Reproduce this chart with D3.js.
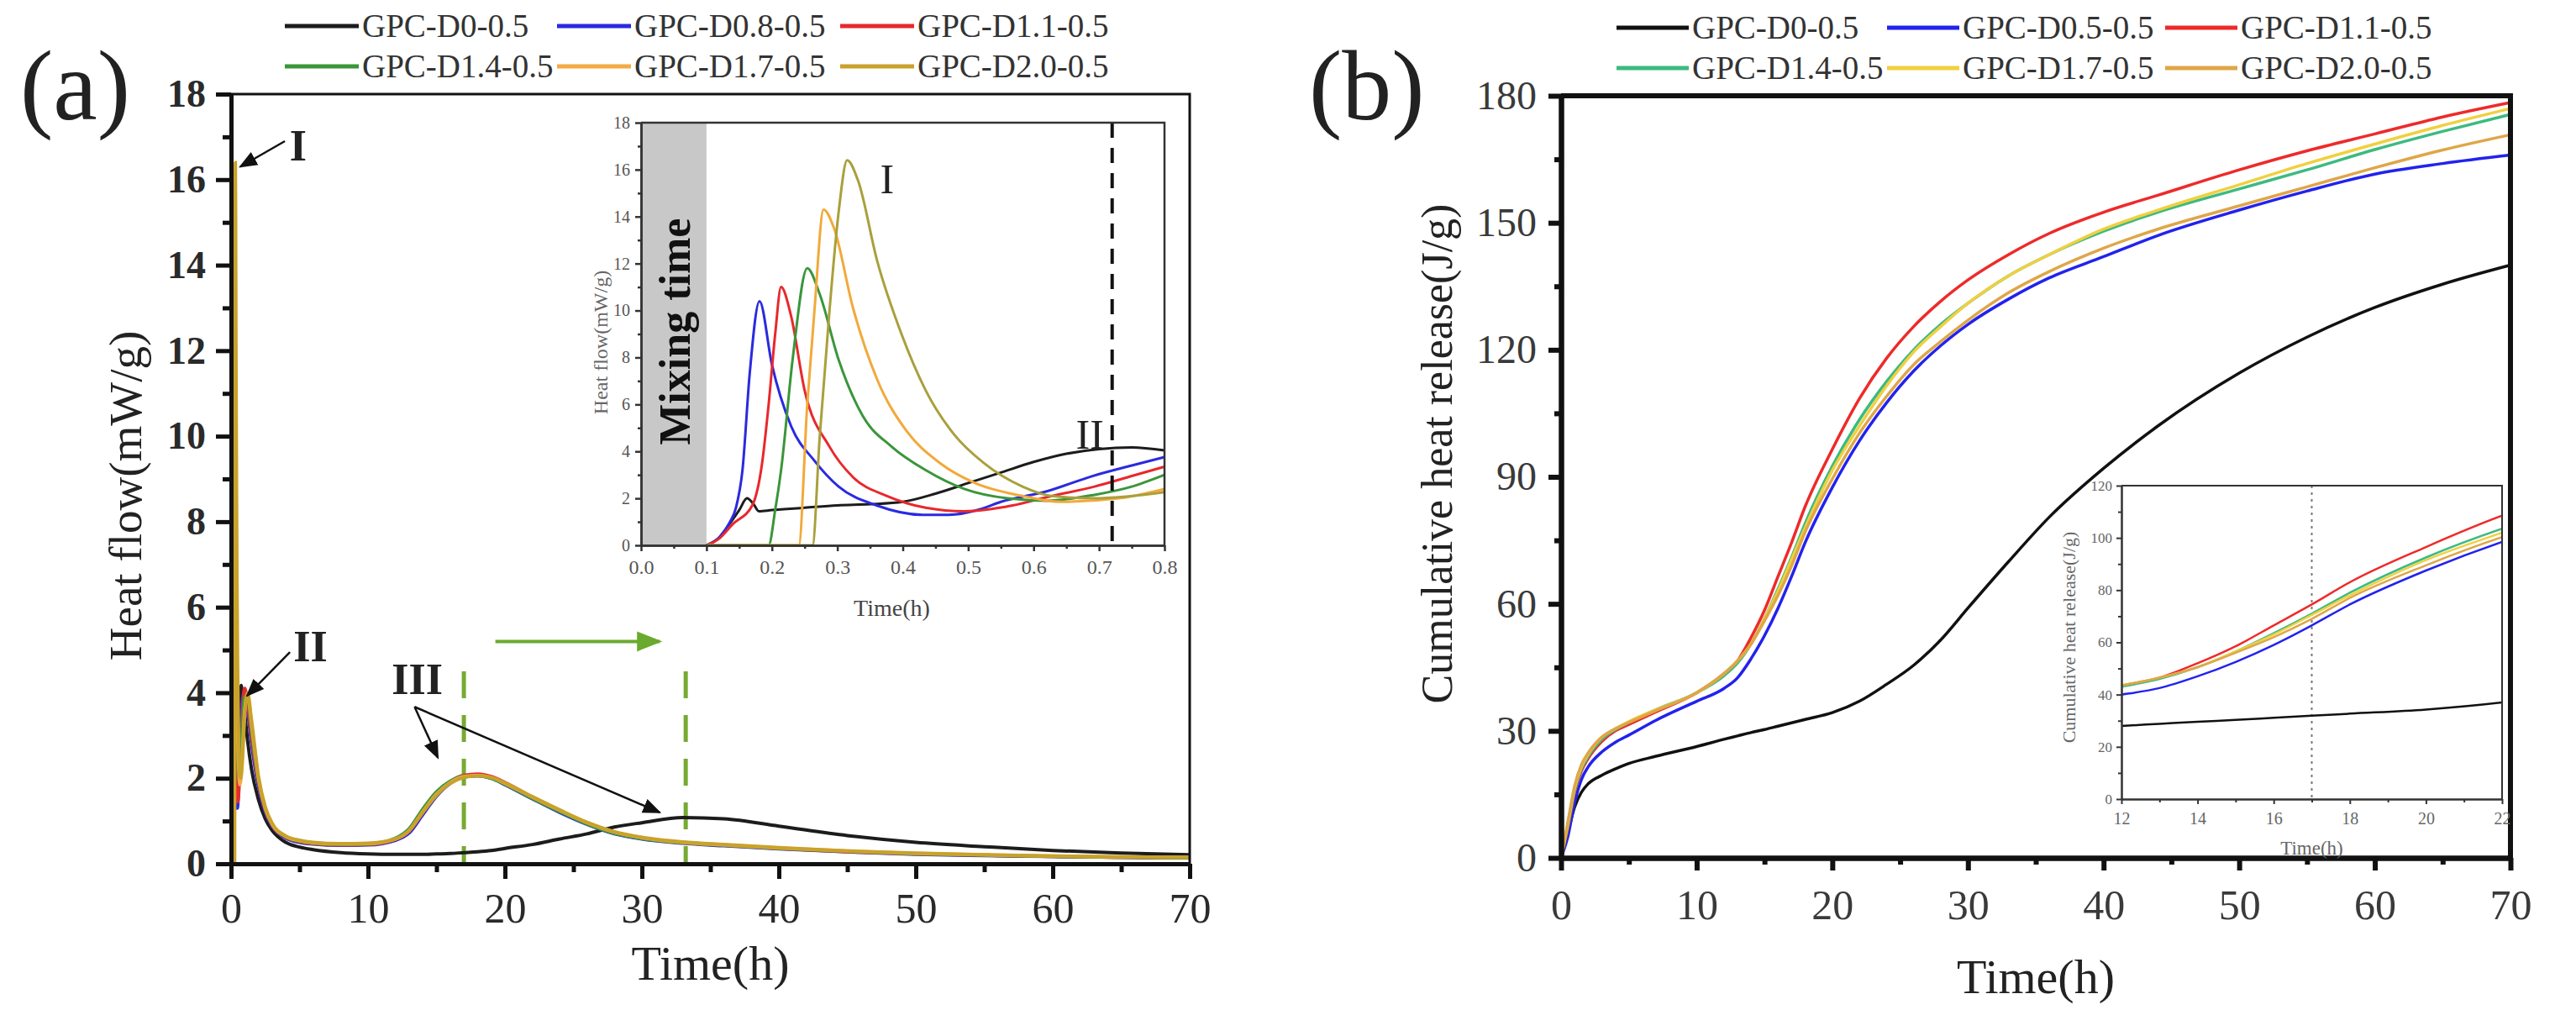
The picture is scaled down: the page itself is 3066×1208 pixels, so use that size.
<!DOCTYPE html>
<html>
<head>
<meta charset="utf-8">
<script src="https://cdn.jsdelivr.net/npm/d3@7"></script>
<style>
  body { margin: 0; background: #fff; }
  svg text { font-family: "Liberation Serif", "Times New Roman", serif; }
</style>
</head>
<body>
<svg id="fig" width="3066" height="1208"></svg>
<script>
// ---- panel (a): heat flow, mW/g ----
const namesA = ['GPC-D0-0.5', 'GPC-D0.8-0.5', 'GPC-D1.1-0.5', 'GPC-D1.4-0.5', 'GPC-D1.7-0.5', 'GPC-D2.0-0.5'];

// first hour, [time h, heat flow]
const earlyD0 = [[0.1,0],[0.12,0.35],[0.135,0.9],[0.15,1.5],[0.162,2.0],[0.172,1.75],[0.18,1.45],[0.2,1.5],[0.25,1.6],[0.3,1.7],[0.35,1.75],[0.4,1.85],[0.45,2.2],[0.5,2.65],[0.55,3.1],[0.6,3.55],[0.65,3.9],[0.7,4.1],[0.75,4.17],[0.8,4.04]];
const earlyD08 = [[0.1,0],[0.12,0.35],[0.135,0.95],[0.145,1.6],[0.155,3.2],[0.166,7.3],[0.181,10.4],[0.2,7.7],[0.229,5.1],[0.265,3.6],[0.302,2.5],[0.36,1.7],[0.43,1.3],[0.47,1.3],[0.52,1.55],[0.55,1.85],[0.62,2.3],[0.69,2.95],[0.75,3.4],[0.8,3.76]];
const earlyD11 = [[0.1,0],[0.12,0.3],[0.14,0.9],[0.17,1.7],[0.185,3.5],[0.195,6.0],[0.205,9.0],[0.214,11.0],[0.229,9.8],[0.25,6.6],[0.288,4.2],[0.324,2.9],[0.376,2.1],[0.435,1.6],[0.494,1.45],[0.568,1.7],[0.62,2.05],[0.693,2.5],[0.75,2.95],[0.8,3.35]];
const earlyD14 = [[0.1,0],[0.195,0],[0.205,1.5],[0.214,3.2],[0.232,8.0],[0.254,11.8],[0.273,10.7],[0.302,7.9],[0.339,5.5],[0.383,4.2],[0.435,3.2],[0.494,2.4],[0.56,2.0],[0.62,1.9],[0.693,2.15],[0.75,2.5],[0.8,3.0]];
const earlyD17 = [[0.1,0],[0.241,0],[0.254,6.0],[0.265,10],[0.279,14.3],[0.295,13.5],[0.324,10.1],[0.361,7.05],[0.406,4.86],[0.457,3.5],[0.509,2.67],[0.583,2.1],[0.641,1.85],[0.73,2.0],[0.8,2.4]];
const earlyD20 = [[0.1,0],[0.262,0],[0.273,4.6],[0.288,10],[0.302,14.2],[0.315,16.4],[0.332,15.5],[0.361,12.1],[0.398,9.0],[0.435,6.6],[0.479,4.7],[0.524,3.5],[0.583,2.5],[0.627,2.1],[0.693,2.0],[0.8,2.26]];

// after the first hour
const tLate = [1.0, 1.2, 1.5, 2, 2.5, 3, 4, 5, 6, 8, 10, 12, 13, 14, 15, 16, 17, 18, 19, 20, 22, 24, 26, 28, 30, 33, 36, 40, 45, 50, 55, 60, 65, 70];
const lateD0  = [3.5, 2.9, 2.2, 1.5, 1.05, 0.78, 0.5, 0.39, 0.33, 0.26, 0.23, 0.22, 0.22, 0.22, 0.23, 0.24, 0.26, 0.28, 0.31, 0.36, 0.45, 0.58, 0.7, 0.86, 0.96, 1.08, 1.05, 0.88, 0.66, 0.5, 0.4, 0.31, 0.25, 0.21];
const lateD08 = [4.05, 3.6, 2.8, 1.8, 1.2, 0.88, 0.6, 0.5, 0.46, 0.43, 0.44, 0.55, 0.72, 1.15, 1.58, 1.88, 2.03, 2.06, 2.0, 1.85, 1.52, 1.2, 0.92, 0.7, 0.58, 0.48, 0.42, 0.35, 0.28, 0.22, 0.19, 0.17, 0.15, 0.14];
const lateD11 = [4.1, 3.75, 2.95, 1.9, 1.25, 0.9, 0.62, 0.52, 0.47, 0.44, 0.45, 0.57, 0.76, 1.2, 1.62, 1.92, 2.07, 2.1, 2.04, 1.9, 1.56, 1.24, 0.95, 0.72, 0.6, 0.49, 0.43, 0.36, 0.28, 0.23, 0.2, 0.17, 0.15, 0.14];
const lateD14 = [3.9, 3.9, 3.1, 1.95, 1.28, 0.92, 0.63, 0.53, 0.48, 0.45, 0.46, 0.6, 0.82, 1.28, 1.68, 1.93, 2.05, 2.06, 2.0, 1.86, 1.53, 1.22, 0.93, 0.71, 0.59, 0.49, 0.43, 0.36, 0.29, 0.23, 0.2, 0.17, 0.15, 0.14];
const lateD17 = [3.6, 3.95, 3.25, 2.0, 1.3, 0.93, 0.64, 0.54, 0.49, 0.46, 0.47, 0.58, 0.78, 1.22, 1.63, 1.9, 2.04, 2.07, 2.02, 1.88, 1.56, 1.25, 0.96, 0.74, 0.61, 0.5, 0.44, 0.37, 0.3, 0.24, 0.21, 0.18, 0.16, 0.15];
const lateD20 = [3.5, 4.0, 3.35, 2.05, 1.33, 0.95, 0.65, 0.55, 0.5, 0.47, 0.48, 0.58, 0.77, 1.2, 1.6, 1.88, 2.02, 2.06, 2.02, 1.89, 1.57, 1.26, 0.97, 0.75, 0.62, 0.51, 0.45, 0.38, 0.3, 0.25, 0.21, 0.18, 0.16, 0.15];

const earlyA = [earlyD0, earlyD08, earlyD11, earlyD14, earlyD17, earlyD20];
const lateA = [lateD0, lateD08, lateD11, lateD14, lateD17, lateD20];
const colorsA = ['#1c1c1c', '#2a2ae0', '#e8282c', '#3a963a', '#f3ab45', '#c9a22a'];
const insetColorsA = ['#1c1c1c', '#2a2ae0', '#e8282c', '#3a963a', '#f2a93b', '#a9a03c'];

// ---- panel (b): cumulative heat, J/g ----
const namesB = ['GPC-D0-0.5', 'GPC-D0.5-0.5', 'GPC-D1.1-0.5', 'GPC-D1.4-0.5', 'GPC-D1.7-0.5', 'GPC-D2.0-0.5'];
const tCum = [0, 0.5, 1, 1.5, 2, 3, 4, 5, 7, 10, 12, 13, 14, 15, 16, 17, 18, 20, 22, 24, 26, 28, 30, 33, 36, 40, 44, 50, 55, 60, 65, 70];
const cumD0  = [0, 6, 12, 15.5, 17.5, 19.5, 21, 22.3, 24, 26.3, 28, 28.8, 29.6, 30.3, 31.1, 31.9, 32.7, 34.3, 37, 41, 45.5, 51.5, 59, 70, 80.5, 92, 102, 114.5, 123, 130, 135.5, 140];
const cumD05 = [0, 5, 13, 18.5, 21.5, 25, 27.3, 29, 32.5, 37, 40, 42.5, 47, 52.5, 59, 66.5, 74.5, 87.5, 98.5, 107.5, 115, 121, 126, 132, 137, 142, 147, 153, 157.5, 161.5, 164, 166];
const cumD11 = [0, 7, 15.5, 20.5, 23.5, 27.5, 30, 31.5, 34.5, 39, 43.5, 46.5, 52, 58.5, 66.5, 74.5, 83, 96.5, 108.5, 118, 125.5, 131.5, 136.5, 142.5, 147.5, 152.5, 156.5, 162.5, 167, 171, 175, 178.4];
const cumD14 = [0, 7.5, 16, 21, 24, 28, 30.3, 32, 35, 39, 43, 46, 50.5, 56.5, 63.5, 71, 79, 92.5, 103.5, 112.5, 120, 126, 131, 137.5, 142.5, 148, 152.5, 158, 162.5, 167.3, 171.6, 175.6];
const cumD17 = [0, 8, 16.5, 21.5, 24.5, 28.5, 30.5, 32.2, 35, 39, 43.5, 46.5, 50.5, 56.5, 63, 70.5, 78, 91.5, 102, 111.5, 119.5, 125.5, 131, 137.5, 142.5, 148.5, 153, 159, 164, 168.6, 173, 177];
const cumD20 = [0, 8.5, 17, 22, 24.8, 28.5, 30.5, 32, 34.8, 39, 43.5, 46.5, 50.5, 56, 62, 69, 77, 89.5, 100.3, 109, 116.5, 122, 127, 133.5, 138.5, 144, 148.5, 154, 158.5, 163, 167.2, 170.8];
const cumB = [cumD0, cumD05, cumD11, cumD14, cumD17, cumD20];
const colorsB = ['#111111', '#2222ee', '#ee2a2a', '#3dba80', '#f0d040', '#dfa648'];

const svg = d3.select('#fig');
svg.append('rect').attr('width', 3066).attr('height', 1208).attr('fill', '#fff');

// major + minor ticks on bottom and left, with styled labels
function drawAxes(g, x, y, c) {
  const yBase = y.range()[0];
  const mk = (axis, tr) => g.append('g').attr('transform', tr).call(axis)
      .attr('font-family', null).attr('font-size', null);
  mk(d3.axisBottom(x).tickValues(c.xMinor).tickSize(c.minorLen).tickFormat('').tickSizeOuter(0), `translate(0,${yBase})`);
  mk(d3.axisLeft(y).tickValues(c.yMinor).tickSize(c.minorLen).tickFormat('').tickSizeOuter(0), 'translate(' + x.range()[0] + ',0)');
  const xa = mk(d3.axisBottom(x).tickValues(c.xMajor).tickSize(c.majorLen).tickPadding(c.padX)
      .tickFormat(c.xFmt || d3.format('d')).tickSizeOuter(0), `translate(0,${yBase})`);
  const ya = mk(d3.axisLeft(y).tickValues(c.yMajor).tickSize(c.majorLen).tickPadding(c.padY)
      .tickFormat(c.yFmt || d3.format('d')).tickSizeOuter(0), 'translate(' + x.range()[0] + ',0)');
  g.selectAll('.domain, .tick line').attr('stroke', c.color).attr('stroke-width', c.width);
  xa.selectAll('text').attr('font-size', c.fontX).attr('fill', c.textColor).attr('font-weight', c.boldX ? 'bold' : null);
  ya.selectAll('text').attr('font-size', c.fontY).attr('fill', c.textColor).attr('font-weight', c.boldY ? 'bold' : null);
  // top & right frame
  g.append('path')
    .attr('d', `M${x.range()[0]},${y.range()[1]}H${x.range()[1]}V${yBase}`)
    .attr('fill', 'none').attr('stroke', c.color).attr('stroke-width', c.frameWidth);
}

function legend(xs, rows, names, colors, len) {
  names.forEach((n, i) => {
    const lx = xs[i % 3], ly = rows[Math.floor(i / 3)];
    svg.append('line').attr('x1', lx).attr('x2', lx + len).attr('y1', ly).attr('y2', ly)
      .attr('stroke', colors[i]).attr('stroke-width', 5);
    svg.append('text').attr('x', lx + len + 4).attr('y', ly + 13).attr('font-size', 39)
      .attr('fill', '#333').text(n);
  });
}

const defs = svg.append('defs');
function arrowMarker(id, color, size) {
  defs.append('marker').attr('id', id).attr('viewBox', '0 0 10 10').attr('refX', 9).attr('refY', 5)
    .attr('markerWidth', size).attr('markerHeight', size).attr('orient', 'auto')
    .attr('markerUnits', 'userSpaceOnUse')
    .append('path').attr('d', 'M0,1L10,5L0,9Z').attr('fill', color);
}
arrowMarker('arrBlack', '#111', 22);
arrowMarker('arrGreen', '#6aaa2e', 30);

// ================= panel (a) =================
const xA = d3.scaleLinear().domain([0, 70]).range([275, 1416]);
const yA = d3.scaleLinear().domain([0, 18]).range([1028, 112]);
const gA = svg.append('g');

svg.append('text').attr('x', 24).attr('y', 142).attr('font-size', 118).attr('fill', '#222').text('(a)');
legend([339, 663, 1000], [31, 79], namesA, colorsA, 88);

defs.append('clipPath').attr('id', 'clipA').append('rect')
  .attr('x', xA(0)).attr('y', yA(18)).attr('width', xA(70) - xA(0)).attr('height', yA(0) - yA(18));

const lineA = d3.line().x(d => xA(d[0])).y(d => yA(d[1])).curve(d3.curveMonotoneX);
const seriesA = earlyA.map((e, i) => [[0, 0]].concat(e, tLate.map((t, j) => [t, lateA[i][j]])));

// green guide lines and arrow (peak III shift)
gA.selectAll('line.guide').data([17, 33.2]).join('line').attr('class', 'guide')
  .attr('x1', d => xA(d)).attr('x2', d => xA(d)).attr('y1', yA(4.5)).attr('y2', yA(0))
  .attr('stroke', '#77aa33').attr('stroke-width', 5).attr('stroke-dasharray', '32,20');
gA.append('line').attr('x1', xA(19.3)).attr('x2', xA(31.3)).attr('y1', yA(5.2)).attr('y2', yA(5.2))
  .attr('stroke', '#6aaa2e').attr('stroke-width', 4).attr('marker-end', 'url(#arrGreen)');

gA.append('g').attr('clip-path', 'url(#clipA)').selectAll('path').data(seriesA).join('path')
  .attr('d', lineA).attr('fill', 'none').attr('stroke', (d, i) => colorsA[i]).attr('stroke-width', 4);

drawAxes(gA, xA, yA, {
  xMajor: d3.range(0, 71, 10), xMinor: d3.range(5, 70, 10),
  yMajor: d3.range(0, 19, 2), yMinor: d3.range(1, 18, 2),
  majorLen: 18, minorLen: 10, padX: 16, padY: 12, color: '#111', width: 5, frameWidth: 3,
  fontX: 50, fontY: 46, boldY: true, textColor: '#2a2a2a'
});

svg.append('text').attr('transform', 'translate(168,590) rotate(-90)').attr('text-anchor', 'middle')
  .attr('font-size', 55).attr('fill', '#222').text('Heat flow(mW/g)');
svg.append('text').attr('x', (xA(0) + xA(70)) / 2).attr('y', 1166).attr('text-anchor', 'middle')
  .attr('font-size', 58).attr('fill', '#222').text('Time(h)');

// annotations I, II, III
const annA = [
  { label: 'I', tx: 4.9, ty: 16.45, arrows: [[3.93, 16.9, 0.67, 16.3]] },
  { label: 'II', tx: 5.8, ty: 4.73, arrows: [[4.3, 4.95, 1.17, 3.93]] },
  { label: 'III', tx: 13.6, ty: 3.97, arrows: [[13.4, 3.67, 15.1, 2.48], [13.4, 3.67, 31.3, 1.2]] }
];
annA.forEach(a => {
  gA.append('text').attr('x', xA(a.tx)).attr('y', yA(a.ty)).attr('text-anchor', 'middle')
    .attr('font-size', 52).attr('font-weight', 'bold').attr('fill', '#222').text(a.label);
  a.arrows.forEach(r => gA.append('line')
    .attr('x1', xA(r[0])).attr('y1', yA(r[1])).attr('x2', xA(r[2])).attr('y2', yA(r[3]))
    .attr('stroke', '#111').attr('stroke-width', 2.5).attr('marker-end', 'url(#arrBlack)'));
});

// ---- inset of panel (a): first 0.8 h ----
const xI = d3.scaleLinear().domain([0, 0.8]).range([763, 1386]);
const yI = d3.scaleLinear().domain([0, 18]).range([649, 146]);
const gI = svg.append('g');
gI.append('rect').attr('x', xI(0)).attr('y', yI(18)).attr('width', xI(0.8) - xI(0)).attr('height', yI(0) - yI(18)).attr('fill', '#fff');
gI.append('rect').attr('x', xI(0)).attr('y', yI(18)).attr('width', xI(0.1) - xI(0)).attr('height', yI(0) - yI(18)).attr('fill', '#c8c8c8');
gI.append('text').attr('transform', `translate(${xI(0.05) + 2},${yI(9.1)}) rotate(-90)`)
  .attr('text-anchor', 'middle').attr('dominant-baseline', 'central')
  .attr('font-size', 52).attr('font-weight', 'bold').attr('fill', '#111').text('Mixing time');

const lineI = d3.line().x(d => xI(d[0])).y(d => yI(d[1])).curve(d3.curveMonotoneX);
gI.selectAll('path.s').data(earlyA).join('path').attr('class', 's')
  .attr('d', d => lineI(d)).attr('fill', 'none').attr('stroke', (d, i) => insetColorsA[i]).attr('stroke-width', 3);

gI.append('line').attr('x1', xI(0.72)).attr('x2', xI(0.72)).attr('y1', yI(18)).attr('y2', yI(0))
  .attr('stroke', '#111').attr('stroke-width', 4).attr('stroke-dasharray', '18,12');

drawAxes(gI, xI, yI, {
  xMajor: d3.range(0, 0.81, 0.1), xMinor: d3.range(0.05, 0.8, 0.1),
  yMajor: d3.range(0, 19, 2), yMinor: d3.range(1, 18, 2),
  majorLen: 7, minorLen: 4, padX: 10, padY: 6, color: '#333', width: 2.5, frameWidth: 2.5,
  fontX: 24, fontY: 20, textColor: '#555', xFmt: d3.format('.1f')
});
svg.append('text').attr('transform', `translate(${xI(0) - 40},${(yI(0) + yI(18)) / 2 + 10}) rotate(-90)`)
  .attr('text-anchor', 'middle').attr('font-size', 24).attr('fill', '#666').text('Heat flow(mW/g)');
svg.append('text').attr('x', (xI(0) + xI(0.8)) / 2 - 13).attr('y', 733).attr('text-anchor', 'middle')
  .attr('font-size', 28).attr('fill', '#444').text('Time(h)');
gI.append('text').attr('x', xI(0.376)).attr('y', yI(15.0)).attr('text-anchor', 'middle')
  .attr('font-size', 50).attr('fill', '#222').text('I');
gI.append('text').attr('x', xI(0.686)).attr('y', yI(4.1)).attr('text-anchor', 'middle')
  .attr('font-size', 50).attr('fill', '#222').text('II');

// ================= panel (b) =================
const xB = d3.scaleLinear().domain([0, 70]).range([1858, 2988]);
const yB = d3.scaleLinear().domain([0, 180]).range([1021, 114]);
const gB = svg.append('g');

svg.append('text').attr('x', 1558).attr('y', 142).attr('font-size', 118).attr('fill', '#222').text('(b)');
legend([1924, 2246, 2577], [33, 81], namesB, colorsB, 86);

const lineB = d3.line().x(d => xB(d[0])).y(d => yB(d[1])).curve(d3.curveMonotoneX);
const seriesB = cumB.map(v => tCum.map((t, j) => [t, v[j]]));
gB.selectAll('path.s').data(seriesB).join('path').attr('class', 's')
  .attr('d', lineB).attr('fill', 'none').attr('stroke', (d, i) => colorsB[i]).attr('stroke-width', 3.5);

// inset of panel (b): 12-22 h
const xJ = d3.scaleLinear().domain([12, 22]).range([2525, 2978]);
const yJ = d3.scaleLinear().domain([0, 120]).range([951, 578]);
const gJ = svg.append('g');
gJ.append('rect').attr('x', xJ(12)).attr('y', yJ(120)).attr('width', xJ(22) - xJ(12)).attr('height', yJ(0) - yJ(120)).attr('fill', '#fff');
defs.append('clipPath').attr('id', 'clipJ').append('rect')
  .attr('x', xJ(12)).attr('y', yJ(120)).attr('width', xJ(22) - xJ(12)).attr('height', yJ(0) - yJ(120));
const lineJ = d3.line().x(d => xJ(d[0])).y(d => yJ(d[1])).curve(d3.curveMonotoneX);
gJ.append('line').attr('x1', xJ(17)).attr('x2', xJ(17)).attr('y1', yJ(120)).attr('y2', yJ(0))
  .attr('stroke', '#777').attr('stroke-width', 2).attr('stroke-dasharray', '3,5');
gJ.append('g').attr('clip-path', 'url(#clipJ)').selectAll('path').data(seriesB).join('path')
  .attr('d', lineJ).attr('fill', 'none').attr('stroke', (d, i) => colorsB[i]).attr('stroke-width', 2.5);
drawAxes(gJ, xJ, yJ, {
  xMajor: d3.range(12, 23, 2), xMinor: d3.range(13, 22, 2),
  yMajor: d3.range(0, 121, 20), yMinor: d3.range(10, 120, 20),
  majorLen: 6, minorLen: 4, padX: 10, padY: 5, color: '#333', width: 2, frameWidth: 2,
  fontX: 20, fontY: 17, textColor: '#666'
});
svg.append('text').attr('transform', `translate(2470,${(yJ(0) + yJ(120)) / 2 - 6}) rotate(-90)`)
  .attr('text-anchor', 'middle').attr('font-size', 22).attr('fill', '#666').text('Cumulative heat release(J/g)');
svg.append('text').attr('x', xJ(17)).attr('y', 1017).attr('text-anchor', 'middle')
  .attr('font-size', 23).attr('fill', '#666').text('Time(h)');

drawAxes(gB, xB, yB, {
  xMajor: d3.range(0, 71, 10), xMinor: d3.range(5, 70, 10),
  yMajor: d3.range(0, 181, 30), yMinor: d3.range(15, 180, 30),
  majorLen: 15, minorLen: 8, padX: 22, padY: 14, color: '#111', width: 6, frameWidth: 6,
  fontX: 50, fontY: 48, textColor: '#3a3a3a'
});

svg.append('text').attr('transform', 'translate(1728,540) rotate(-90)').attr('text-anchor', 'middle')
  .attr('font-size', 52).attr('fill', '#222').text('Cumulative heat release(J/g)');
svg.append('text').attr('x', (xB(0) + xB(70)) / 2).attr('y', 1182).attr('text-anchor', 'middle')
  .attr('font-size', 58).attr('fill', '#222').text('Time(h)');
</script>
</body>
</html>
